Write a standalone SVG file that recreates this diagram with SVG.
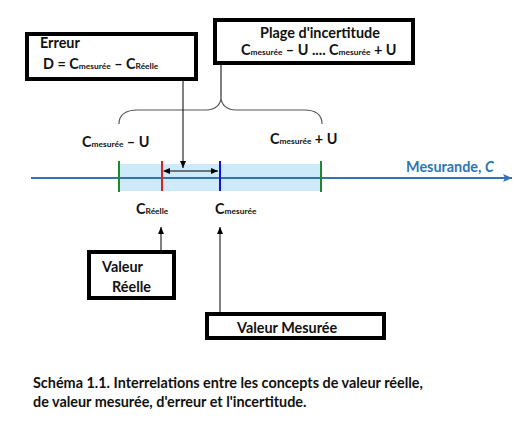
<svg xmlns="http://www.w3.org/2000/svg" width="529" height="435" viewBox="0 0 529 435">
<style>
.box{fill:#fff;stroke:#000;stroke-width:4}
.t{font-family:Lato,"Liberation Sans",sans-serif;font-weight:bold;fill:#111;font-size:14.4px}
.s{font-size:8.4px}
.ln{stroke:#000;stroke-width:1;fill:none}
</style>
<defs>
<marker id="ah" markerWidth="8" markerHeight="8" refX="7" refY="4" orient="auto" markerUnits="userSpaceOnUse"><path d="M0,1 L7,4 L0,7 Z" fill="#000"/></marker>
<marker id="as" markerWidth="8" markerHeight="8" refX="1" refY="4" orient="auto" markerUnits="userSpaceOnUse"><path d="M7,1 L0,4 L7,7 Z" fill="#000"/></marker>
<marker id="ab" markerWidth="10" markerHeight="10" refX="9" refY="5" orient="auto" markerUnits="userSpaceOnUse"><path d="M0,1 L9,5 L0,9 L2,5 Z" fill="#2E75B6"/></marker>
</defs>
<rect x="119" y="164" width="202" height="27" fill="#cde9fa"/>
<g id="connectors">
<line x1="31" y1="178" x2="512" y2="178" stroke="#2E75B6" stroke-width="2" marker-end="url(#ab)"/>
<path d="M119,124 C119,114 126,110 138,110 L206,110 C216,110 221,104 221,97 C221,104 226,110 236,110 L304,110 C316,110 322,114 322,124" fill="none" stroke="#555" stroke-width="1.2"/>
<line class="ln" x1="221" y1="63" x2="221" y2="97"/>
<line class="ln" x1="183" y1="79" x2="183" y2="168" marker-end="url(#ah)"/>
<line class="ln" x1="164" y1="171" x2="218" y2="171" marker-start="url(#as)" marker-end="url(#ah)"/>
<line class="ln" x1="161" y1="252" x2="161" y2="227" marker-end="url(#ah)"/>
<line class="ln" x1="220" y1="314" x2="220" y2="227" marker-end="url(#ah)"/>
<line x1="119" y1="161" x2="119" y2="192" stroke="#1a8a2a" stroke-width="2"/>
<line x1="321" y1="161" x2="321" y2="192" stroke="#1a8a2a" stroke-width="2"/>
<line x1="162" y1="161" x2="162" y2="191" stroke="#e02020" stroke-width="2"/>
<line x1="220" y1="161" x2="220" y2="191" stroke="#1010e0" stroke-width="2"/>
</g>
<g id="erreur">
<rect class="box" x="27" y="34" width="169" height="45"/>
<text class="t" x="40" y="48">Erreur</text>
<text class="t" x="43" y="69">D = C<tspan class="s">mesurée</tspan> – C<tspan class="s">Réelle</tspan></text>
</g>
<g id="plage">
<rect class="box" x="215" y="20" width="198" height="43"/>
<text class="t" x="320" y="38" text-anchor="middle">Plage d'incertitude</text>
<text class="t" x="241" y="55">C<tspan class="s">mesurée</tspan> – U .... C<tspan class="s">mesurée</tspan> + U</text>
</g>
<g id="labels">
<text class="t" x="82" y="147">C<tspan class="s">mesurée</tspan> – U</text>
<text class="t" x="270" y="144">C<tspan class="s">mesurée</tspan> + U</text>
<text class="t" x="136" y="214">C<tspan class="s">Réelle</tspan></text>
<text class="t" x="215" y="214">C<tspan class="s">mesurée</tspan></text>
<text x="406" y="172" font-family="Lato,'Liberation Sans',sans-serif" font-weight="bold" font-size="14.4" fill="#2E75B6">Mesurande, <tspan font-style="italic">C</tspan></text>
</g>
<g id="valeur-reelle">
<rect class="box" x="89" y="252" width="85" height="46"/>
<text class="t" x="102" y="272">Valeur</text>
<text class="t" x="112" y="292">Réelle</text>
</g>
<g id="valeur-mesuree">
<rect class="box" x="207" y="314" width="177" height="24"/>
<text class="t" x="237" y="333">Valeur Mesurée</text>
</g>
<g id="caption">
<text class="t" x="33" y="388">Schéma 1.1. Interrelations entre les concepts de valeur réelle,</text>
<text class="t" x="33" y="407">de valeur mesurée, d'erreur et l'incertitude.</text>
</g>
</svg>
